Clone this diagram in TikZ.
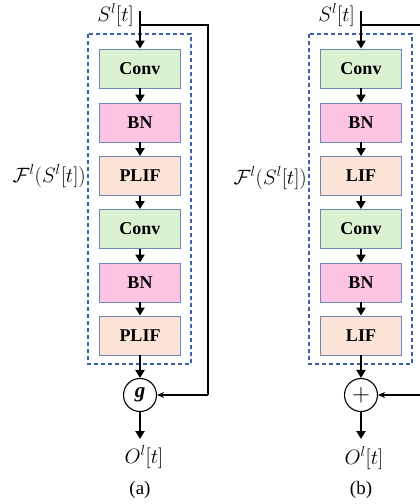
\documentclass[tikz,border=0pt]{standalone}
\usepackage{fontspec}
\setmainfont{Liberation Serif}
\usetikzlibrary{arrows.meta,positioning}
\definecolor{convc}{HTML}{DAF2D0}
\definecolor{bnc}{HTML}{FCC3E2}
\definecolor{lifc}{HTML}{FBE3D6}
\definecolor{edgec}{HTML}{6F86B8}
\definecolor{dashc}{HTML}{3A62A8}
\tikzset{
  blk/.style={draw=edgec, line width=0.9pt, minimum width=81pt, minimum height=39pt, inner sep=0pt,
    font=\fontsize{18}{18}\selectfont\bfseries},
  convbox/.style={blk, fill=convc},
  bnbox/.style={blk, fill=bnc},
  lifbox/.style={blk, fill=lifc},
  dashbox/.style={draw=dashc, line width=1.1pt, dash pattern=on 4pt off 3pt},
  opnode/.style={draw, circle, fill=white, line width=1.1pt, minimum size=33pt, inner sep=0pt},
  mainarrow/.style={line width=2.4pt, -{Triangle[length=8pt,width=9pt]}},
  fbline/.style={line width=1.8pt},
  fbarrow/.style={line width=1.8pt, -{Stealth[length=7pt,width=6pt]}},
  mlabel/.style={inner sep=0pt, font=\fontsize{21}{21}\selectfont},
  captext/.style={inner sep=0pt, font=\fontsize{19}{19}\selectfont}
}
\begin{document}
\begin{tikzpicture}[x=1pt,y=-1pt]
\useasboundingbox (0,0) rectangle (420,504);
\clip (0,0) rectangle (420,504);
% ---------- (a) ----------
\draw[dashbox] (88,34) rectangle (191,364);
\node[convbox] (a1) at (140,68.5) {Conv};
\node[bnbox]   (a2) at (140,122.5) {BN};
\node[lifbox]  (a3) at (140,176) {PLIF};
\node[convbox] (a4) at (140,229) {Conv};
\node[bnbox]   (a5) at (140,282.5) {BN};
\node[lifbox]  (a6) at (140,335.5) {PLIF};
\node[opnode]  (ag) at (140,395) {\fontsize{21}{21}\selectfont\bfseries\itshape g};
\coordinate (ain) at (140,11);
\coordinate (abr) at (140,25);
\coordinate (ar1) at (208,25);
\coordinate (ar2) at (208,395);
\coordinate (aout) at (140,439);
\node[mlabel, anchor=east] (aS) at (134,15) {$S^{l}[t]$};
\node[mlabel, anchor=east] (aF) at (86,176) {$\mathcal{F}^{l}(S^{l}[t])$};
\node[mlabel] (aO) at (144,457) {$O^{l}[t]$};
\node[captext] (acap) at (140,490) {(a)};
\draw[mainarrow] (ain) -- (a1);
\draw[mainarrow] (a1) -- (a2);
\draw[mainarrow] (a2) -- (a3);
\draw[mainarrow] (a3) -- (a4);
\draw[mainarrow] (a4) -- (a5);
\draw[mainarrow] (a5) -- (a6);
\draw[mainarrow] (a6) -- (ag);
\draw[mainarrow] (ag) -- (aout);
\draw[fbline] (abr) -- (ar1) -- (ar2);
\draw[fbarrow] (ar2) -- (ag);
% ---------- (b) ----------
\draw[dashbox] (309,34) rectangle (412,364);
\node[convbox] (b1) at (361,68.5) {Conv};
\node[bnbox]   (b2) at (361,122.5) {BN};
\node[lifbox]  (b3) at (361,176) {LIF};
\node[convbox] (b4) at (361,229) {Conv};
\node[bnbox]   (b5) at (361,282.5) {BN};
\node[lifbox]  (b6) at (361,335.5) {LIF};
\node[opnode]  (bg) at (361,395) {\fontsize{34}{34}\selectfont$+$};
\coordinate (bin) at (361,11);
\coordinate (bbr) at (361,25);
\coordinate (br1) at (429,25);
\coordinate (br2) at (429,395);
\coordinate (bout) at (361,439);
\node[mlabel, anchor=east] (bS) at (355,15) {$S^{l}[t]$};
\node[mlabel, anchor=east] (bF) at (307,178) {$\mathcal{F}^{l}(S^{l}[t])$};
\node[mlabel] (bO) at (364,458) {$O^{l}[t]$};
\node[captext] (bcap) at (361,490) {(b)};
\draw[mainarrow] (bin) -- (b1);
\draw[mainarrow] (b1) -- (b2);
\draw[mainarrow] (b2) -- (b3);
\draw[mainarrow] (b3) -- (b4);
\draw[mainarrow] (b4) -- (b5);
\draw[mainarrow] (b5) -- (b6);
\draw[mainarrow] (b6) -- (bg);
\draw[mainarrow] (bg) -- (bout);
\draw[fbline] (bbr) -- (br1) -- (br2);
\draw[fbarrow] (br2) -- (bg);
\end{tikzpicture}
\end{document}
